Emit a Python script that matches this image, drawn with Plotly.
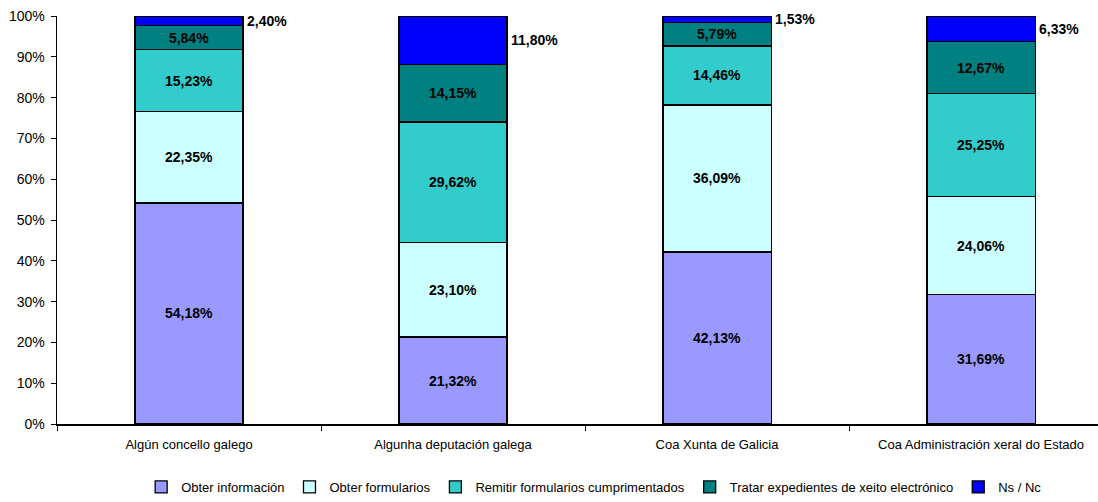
import plotly.graph_objects as go

categories = ["Algún concello galego", "Algunha deputación galega",
              "Coa Xunta de Galicia", "Coa Administración xeral do Estado"]
series_names = ["Obter información", "Obter formularios", "Remitir formularios cumprimentados",
                "Tratar expedientes de xeito electrónico", "Ns / Nc"]
obter_informacion = [54.18, 21.32, 42.13, 31.69]
obter_formularios = [22.35, 23.10, 36.09, 24.06]
remitir_formularios = [15.23, 29.62, 14.46, 25.25]
tratar_expedientes = [5.84, 14.15, 5.79, 12.67]
ns_nc = [2.40, 11.80, 1.53, 6.33]
colors = ["#9999FF", "#CCFFFF", "#33CCCC", "#008080", "#0000FF"]
y_ticks = [0, 10, 20, 30, 40, 50, 60, 70, 80, 90, 100]

series = [obter_informacion, obter_formularios, remitir_formularios, tratar_expedientes, ns_nc]

def fmt(v):
    return f"{v:.2f}".replace(".", ",") + "%"

FONT = "Liberation Sans, Arial, sans-serif"
fig = go.Figure()
for i, (name, vals) in enumerate(zip(series_names, series)):
    last = i == len(series) - 1
    fig.add_trace(go.Bar(
        x=categories, y=vals, name=name,
        marker=dict(color=colors[i], line=dict(color="black", width=1.3)),
        text=None if last else [fmt(v) for v in vals],
        textposition="inside", insidetextanchor="middle",
        textfont=dict(family=FONT, size=14, color="black", weight="bold"),
        width=0.41, hoverinfo="skip",
    ))

# outside labels for Ns / Nc
for j, cat in enumerate(categories):
    base = sum(s[j] for s in series[:-1])
    fig.add_annotation(x=cat, y=base + ns_nc[j] / 2, text="<b>" + fmt(ns_nc[j]) + "</b>",
                       showarrow=False, xanchor="left", xshift=56,
                       font=dict(family=FONT, size=14, color="black"))

fig.update_layout(
    barmode="stack",
    width=1098, height=502,
    margin=dict(l=57, r=0, t=16, b=73),
    paper_bgcolor="white", plot_bgcolor="white",
    font=dict(family=FONT, size=13, color="black"),
    showlegend=True,
    legend=dict(orientation="h", x=0.516, xanchor="center", y=-0.155, yanchor="middle",
                font=dict(family=FONT, size=13), itemwidth=30, tracegroupgap=0,
                traceorder="normal"),
    bargap=0.59,
)
fig.update_xaxes(range=[-0.5, 3.443], showline=True, linecolor="black", linewidth=1.5,
                 ticks="outside", tickson="boundaries", ticklen=5, tickcolor="black",
                 ticklabelstandoff=8,
                 showgrid=False, automargin=False, tickfont=dict(family=FONT, size=13))
fig.update_yaxes(range=[0, 100], tickvals=y_ticks, ticktext=[f"{t}%" for t in y_ticks],
                 showline=True, linecolor="black", linewidth=1.5, ticks="outside",
                 ticklen=5, tickcolor="black", showgrid=False, zeroline=False,
                 ticklabelstandoff=3,
                 automargin=False, tickfont=dict(family=FONT, size=14))

fig.write_html(
    "out.html",
    config={"displayModeBar": False, "staticPlot": True},
    post_script=("document.body.style.margin='0';"
                 "document.body.style.height='502px';"
                 "document.body.style.overflow='hidden';"
                 "document.documentElement.style.height='502px';"
                 "document.documentElement.style.overflow='hidden';"),
)
